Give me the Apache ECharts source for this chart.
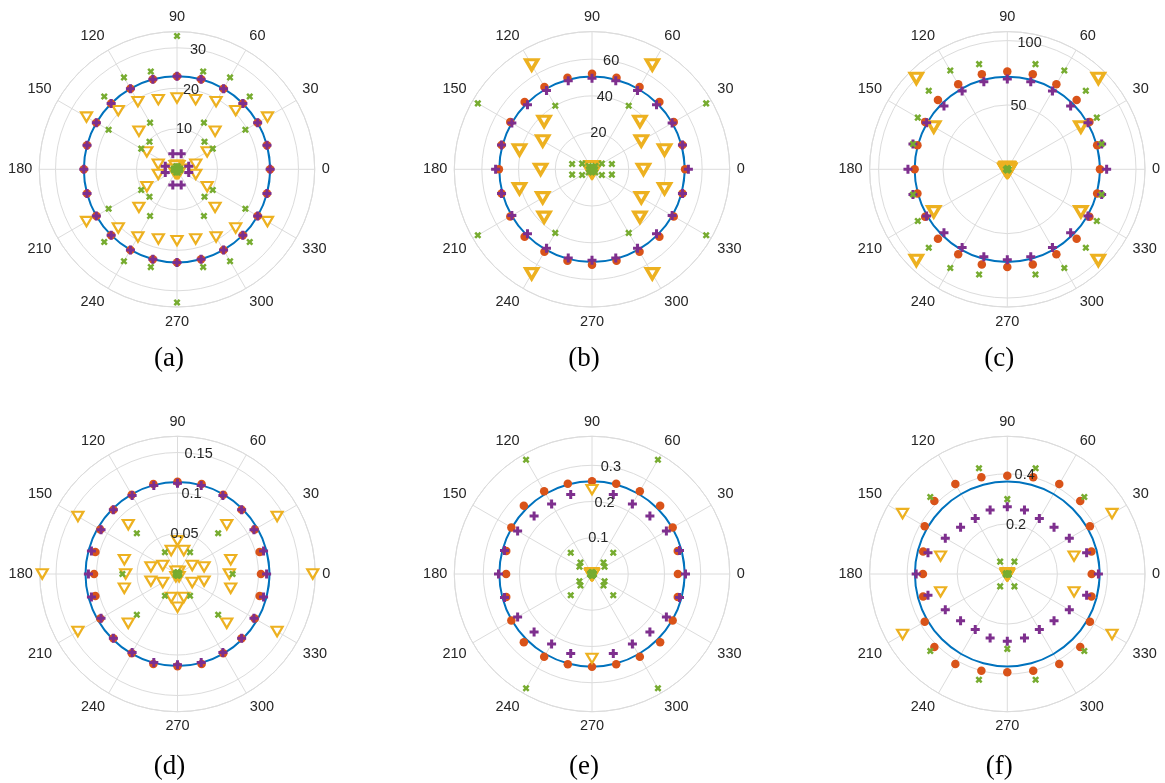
<!DOCTYPE html>
<html>
<head>
<meta charset="utf-8">
<script src="https://cdn.jsdelivr.net/npm/echarts@6/dist/echarts.min.js"></script>
<style>
html,body{margin:0;padding:0;background:#fff;}
#chart{width:1165px;height:783px;}
</style>
</head>
<body>
<div id="chart"></div>
<script>
// ---- data ----
const ANGLES = [0,15,30,45,60,75,90,105,120,135,150,165,180,195,210,225,240,255,270,285,300,315,330,345];
const ANGLE_TICKS = [0,30,60,90,120,150,180,210,240,270,300,330];
const PANEL_NAMES = ['(a)','(b)','(c)','(d)','(e)','(f)'];
const R_MAX  = [34, 75, 107, 0.17, 0.38, 0.55];
const R_STEP = [10, 20, 50, 0.05, 0.1, 0.2];
const BLUE_R = [23, 50.5, 72, 0.1136, 0.2557, 0.369];

// panel (a)
const A_ORANGE = [23,23,23,23,23,23,23,23,23,23,23,23,23,23,23,23,23,23,23,23,23,23,23,23];
const A_PURPLE = [23,23,23,23,23,23,23,23,23,23,23,23,23,23,23,23,23,23,23,23,23,23,23,23];
const A_PURPLE2 = [null,3,null,null,null,4,null,4,null,null,null,3,null,3,null,null,null,4,null,4,null,null,null,3];
const A_YELLOW = [null,null,25.8,20.5,19.3,17.8,17.6,17.8,19.3,20.5,25.8,null,null,null,25.8,20.5,19.3,17.8,17.6,17.8,19.3,20.5,25.8,null];
const A_YELLOW2 = [1,4.8,8.6,13.3,1,1,1,1,1,13.3,8.6,4.8,1,4.8,8.6,13.3,1,1,1,1,1,13.3,8.6,4.8];
const A_GREEN = [0.5,0.5,19.5,25.4,26.2,25,32.9,25,26.2,25.4,19.5,0.5,0.5,0.5,19.5,25.4,26.2,25,32.9,25,26.2,25.4,19.5,0.5];
const A_GREEN2 = [0.8,0.8,10.2,9.6,13.3,0.8,0.4,0.8,13.3,9.6,10.2,0.8,0.8,0.8,10.2,9.6,13.3,0.8,0.4,0.8,13.3,9.6,10.2,0.8];

// panel (b)
const B_ORANGE = [50.7,51,51.4,51.9,51.8,51.6,52,51.6,51.8,51.9,51.4,51,50.7,51,51.4,51.9,51.8,51.6,52,51.6,51.8,51.9,51.4,51];
const B_PURPLE = [52.5,51,50.4,49.7,49.6,50,49.6,50,49.6,49.7,50.4,51,52.5,51,50.4,49.7,49.6,50,49.6,50,49.6,49.7,50.4,51];
const B_YELLOW = [28,40.9,31,36.9,65.7,1.5,1.5,1.5,65.7,36.9,31,40.9,28,40.9,31,36.9,65.7,1.5,1.5,1.5,65.7,36.9,31,40.9];
const B_GREEN = [0.5,11.2,71.8,2.5,40,1,0.5,1,40,2.5,71.8,11.2,0.5,11.2,71.8,2.5,40,1,0.5,1,40,2.5,71.8,11.2];
const B_GREEN2 = [null,null,6.2,1.2,null,null,null,null,null,1.2,6.2,null,null,null,6.2,1.2,null,null,null,null,null,1.2,6.2,null];

// panel (c)
const C_ORANGE = [72,72.3,73.7,76.2,76.3,76.5,75.9,76.5,76.3,76.2,73.7,72.3,72,72.3,73.7,76.2,76.3,76.5,75.9,76.5,76.3,76.2,73.7,72.3];
const C_PURPLE = [77.2,75.9,72.4,69.6,70.2,70.4,70.2,70.4,70.2,69.6,72.4,75.9,77.2,75.9,72.4,69.6,70.2,70.4,70.2,70.4,70.2,69.6,72.4,75.9];
const C_YELLOW = [1.5,1.5,66,100,1.5,1.5,1.5,1.5,1.5,100,66,1.5,1.5,1.5,66,100,1.5,1.5,1.5,1.5,1.5,100,66,1.5];
const C_GREEN = [1,75.9,80.3,86.3,88.6,84.6,1,84.6,88.6,86.3,80.3,75.9,1,75.9,80.3,86.3,88.6,84.6,1,84.6,88.6,86.3,80.3,75.9];

// panel (d)
const D_ORANGE = [0.103,0.105,0.110,0.112,0.113,0.115,0.114,0.115,0.113,0.112,0.110,0.105,0.103,0.105,0.110,0.112,0.113,0.115,0.114,0.115,0.113,0.112,0.110,0.105];
const D_PURPLE = [0.110,0.110,0.109,0.112,0.112,0.113,0.112,0.113,0.112,0.112,0.109,0.110,0.110,0.110,0.109,0.112,0.112,0.113,0.112,0.113,0.112,0.112,0.109,0.110];
const D_YELLOW = [0.167,0.068,0.142,0.086,0.004,0.030,0.041,0.030,0.004,0.086,0.142,0.068,0.167,0.068,0.142,0.086,0.004,0.030,0.041,0.030,0.004,0.086,0.142,0.068];
const D_YELLOW2 = [0.064,0.034,0.021,null,null,null,null,null,null,null,0.021,0.034,0.064,0.034,0.021,null,null,null,null,null,null,null,0.021,0.034];
const D_GREEN = [0.068,0.002,0.002,0.071,0.031,0.002,0.002,0.002,0.031,0.071,0.002,0.002,0.068,0.002,0.002,0.071,0.031,0.002,0.002,0.002,0.031,0.071,0.002,0.002];

// panel (e)
const E_ORANGE = [0.237,0.245,0.257,0.266,0.264,0.258,0.256,0.258,0.264,0.266,0.257,0.245,0.237,0.245,0.257,0.266,0.264,0.258,0.256,0.258,0.264,0.266,0.257,0.245];
const E_PURPLE = [0.258,0.25,0.237,0.226,0.223,0.227,null,0.227,0.223,0.226,0.237,0.25,0.258,0.25,0.237,0.226,0.223,0.227,null,0.227,0.223,0.226,0.237,0.25];
const E_YELLOW = [0.003,0.003,0.003,0.003,0.003,0.003,0.233,0.003,0.003,0.003,0.003,0.003,0.003,0.003,0.003,0.003,0.003,0.003,0.233,0.003,0.003,0.003,0.003,0.003];
const E_GREEN = [0.005,0.005,0.04,0.083,0.364,0.005,0.005,0.005,0.364,0.083,0.04,0.005,0.005,0.005,0.04,0.083,0.364,0.005,0.005,0.005,0.364,0.083,0.04,0.005];
const E_GREEN2 = [null,null,null,0.045,null,null,null,null,null,0.045,null,null,null,null,null,0.045,null,null,null,null,null,0.045,null,null];

// panel (f)
const F_ORANGE = [0.337,0.348,0.381,0.412,0.415,0.4,0.392,0.4,0.415,0.412,0.381,0.348,0.337,0.348,0.381,0.412,0.415,0.4,0.392,0.4,0.415,0.412,0.381,0.348];
const F_PURPLE = [0.364,0.328,0.286,0.264,0.256,0.265,0.269,0.265,0.256,0.264,0.286,0.328,0.364,0.328,0.286,0.264,0.256,0.265,0.269,0.265,0.256,0.264,0.286,0.328];
const F_YELLOW = [0.005,0.276,0.483,0.005,0.005,0.005,0.005,0.005,0.005,0.005,0.483,0.276,0.005,0.276,0.483,0.005,0.005,0.005,0.005,0.005,0.005,0.005,0.483,0.276];
const F_GREEN = [0.005,0.005,0.005,0.435,0.057,0.437,0.299,0.437,0.057,0.435,0.005,0.005,0.005,0.005,0.005,0.435,0.057,0.437,0.299,0.437,0.057,0.435,0.005,0.005];

const ORANGE = [[A_ORANGE],[B_ORANGE],[C_ORANGE],[D_ORANGE],[E_ORANGE],[F_ORANGE]];
const YELLOW = [[A_YELLOW,A_YELLOW2],[B_YELLOW],[C_YELLOW],[D_YELLOW,D_YELLOW2],[E_YELLOW],[F_YELLOW]];
const PURPLE = [[A_PURPLE,A_PURPLE2],[B_PURPLE],[C_PURPLE],[D_PURPLE],[E_PURPLE],[F_PURPLE]];
const GREEN  = [[A_GREEN,A_GREEN2],[B_GREEN,B_GREEN2],[C_GREEN],[D_GREEN],[E_GREEN,E_GREEN2],[F_GREEN]];

// ---- layout / style ----
const CENTERS = [[177,169.3],[592,169.3],[1007.3,169.3],[177.5,574],[592,574],[1007.3,574]];
const RADIUS = 137.7;
const CAPTION_DX = -8;
const CAPTION_Y = [359, 767];
const GRID_COLOR = '#dcdcdc';
const TEXT_COLOR = '#262626';
const SANS = 'Liberation Sans, Arial, Helvetica, sans-serif';
const PLUS = 'path://M2,0H4V2H6V4H4V6H2V4H0V2H2Z';
const TRI_BORDER = [2.2, 3.4, 3.4, 2.2, 2.2, 2.2];
const TRI_SIZE = [11, 12, 12, 11, 11, 11];

function toPairs(list){
  const out = [];
  list.forEach(vals => vals.forEach((v,i) => { if (v != null) out.push([v, ANGLES[i]]); }));
  return out;
}

const polar = [], angleAxis = [], radiusAxis = [], series = [], graphic = [];
for (let p = 0; p < 6; p++) {
  const k = p * 2;
  polar.push({center: CENTERS[p], radius: RADIUS});
  polar.push({center: CENTERS[p], radius: RADIUS});
  angleAxis.push({
    polarIndex: k, type: 'value', min: 0, max: 360, interval: 30,
    startAngle: 0, clockwise: false,
    axisLine: {show: true, lineStyle: {color: GRID_COLOR, width: 1}},
    axisTick: {show: false},
    axisLabel: {show: true, margin: 7, color: TEXT_COLOR, fontSize: 14.5, fontFamily: SANS,
      formatter: v => ANGLE_TICKS.indexOf(v) >= 0 ? String(v) : ''},
    splitLine: {show: true, lineStyle: {color: GRID_COLOR, width: 1}}
  });
  angleAxis.push({
    polarIndex: k + 1, type: 'value', min: 0, max: 360, startAngle: 80, clockwise: false,
    axisLine: {show: false}, axisTick: {show: false}, axisLabel: {show: false}, splitLine: {show: false}
  });
  radiusAxis.push({
    polarIndex: k, type: 'value', min: 0, max: R_MAX[p], interval: R_STEP[p],
    axisLine: {show: false}, axisTick: {show: false}, axisLabel: {show: false},
    splitLine: {show: true, lineStyle: {color: GRID_COLOR, width: 1}}
  });
  const rmax = R_MAX[p];
  radiusAxis.push({
    polarIndex: k + 1, type: 'value', min: 0, max: rmax, interval: R_STEP[p], z: 20,
    axisLine: {show: false}, axisTick: {show: false}, splitLine: {show: false},
    axisLabel: {show: true, margin: 0, align: 'center', verticalAlign: 'middle',
      color: TEXT_COLOR, fontSize: 14.5, fontFamily: SANS,
      formatter: v => (v <= 1e-9 || v >= rmax - 1e-9) ? '' : String(v)}
  });
  // blue reference circle (constant radius, closed by wrapping one step on each side)
  series.push({
    type: 'line', coordinateSystem: 'polar', polarIndex: k, showSymbol: false, silent: true,
    smooth: 0.34, clip: false,
    data: [-15].concat(ANGLES, [360, 375]).map(a => [BLUE_R[p], a]),
    lineStyle: {color: '#0072BD', width: 2}, z: 2
  });
  series.push({
    type: 'scatter', coordinateSystem: 'polar', polarIndex: k, symbol: 'circle', symbolSize: 8.5,
    data: toPairs(ORANGE[p]), itemStyle: {color: '#D95319', opacity: 1}, z: 3
  });
  series.push({
    type: 'scatter', coordinateSystem: 'polar', polarIndex: k, symbol: 'triangle', symbolRotate: 180,
    symbolSize: [TRI_SIZE[p], TRI_SIZE[p] * 0.85],
    data: toPairs(YELLOW[p]), itemStyle: {color: '#ffffff', borderColor: '#EDB120', borderWidth: TRI_BORDER[p], opacity: 1}, z: 4
  });
  series.push({
    type: 'scatter', coordinateSystem: 'polar', polarIndex: k, symbol: PLUS, symbolSize: 9,
    data: toPairs(PURPLE[p]), itemStyle: {color: '#7E2F8E', opacity: 1}, z: 5
  });
  series.push({
    type: 'scatter', coordinateSystem: 'polar', polarIndex: k, symbol: PLUS, symbolRotate: 45, symbolSize: 7.5,
    data: toPairs(GREEN[p]), itemStyle: {color: '#77AC30', opacity: 1}, z: 6
  });
  graphic.push({
    type: 'text', x: CENTERS[p][0] + CAPTION_DX, y: CAPTION_Y[p < 3 ? 0 : 1], z: 10,
    style: {text: PANEL_NAMES[p], fill: '#000', font: '27px "Liberation Serif", "DejaVu Serif", serif',
      textAlign: 'center', textVerticalAlign: 'middle'}
  });
}

const chart = echarts.init(document.getElementById('chart'), null, {renderer: 'canvas'});
chart.setOption({
  backgroundColor: '#ffffff',
  animation: false,
  polar, angleAxis, radiusAxis, series, graphic
});
</script>
</body>
</html>
